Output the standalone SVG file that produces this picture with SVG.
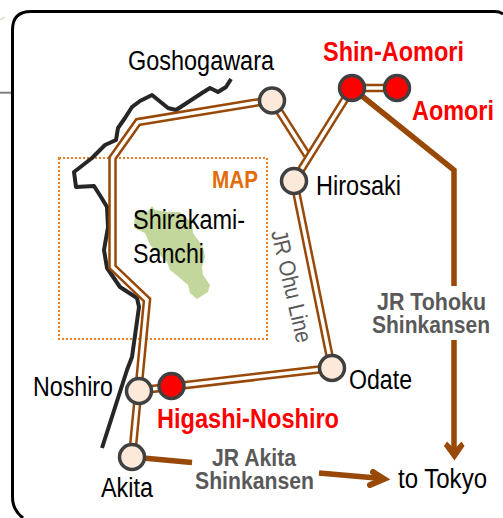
<svg xmlns="http://www.w3.org/2000/svg" width="503" height="518" viewBox="0 0 503 518">
<defs>
<style>
text{font-family:"Liberation Sans",Arial,sans-serif}
.t{font-size:27px;fill:#000}
.r{fill:#f00;font-weight:bold;font-size:27px}
.g{fill:#595959;font-weight:bold;font-size:24.500px}
.s{fill:#fde9d9;stroke:#404040;stroke-width:3.500}
.e{fill:#f00;stroke:#404040;stroke-width:3.500}
.o{fill:none;stroke:#984807;stroke-width:8.500}
.i{fill:none;stroke:#fff;stroke-width:3.500}
.h{fill:none;stroke:#984807;stroke-width:5.500}
</style>
</defs>
<rect width="503" height="518" fill="#fff"/>
<path d="M0 20L5 17" fill="none" stroke="#e4e6cf" stroke-width="2"/>
<path d="M0 92.700H12" fill="none" stroke="#7f7f7f" stroke-width="2"/>
<path d="M503 14Q500 11.500 495 11.500H31Q12.500 11.500 12.500 30V497Q12.500 510 23 518" fill="none" stroke="#000" stroke-width="3"/>
<path id="area" d="M135 212L147 212L152 206L155 210L168 212L180 212L192 223L193 233L203 247L205 257L202 267L203 275L210 285L208 292L200 297L197 299L190 293L188 285L180 278L170 270L167 262L160 255L150 245L145 233L134 228Z" fill="#c3d69b"/>
<rect x="59" y="158" width="208" height="181" fill="none" stroke="#ed7d1f" stroke-width="2" stroke-dasharray="2 2"/>
<g id="connectors">
<path d="M231 79L226 87L218 92L210 88L202 93L176 110L168 108L152 95L140 101L132 107L125 118L118 128L116 140L105 145L92 158L74 172L76 187L94 186L101 197L107 207L108 227L104 250L107 268L120 287L137 298L139 307L132 357L127 370L102 448" fill="none" stroke="#262626" stroke-width="4" stroke-linejoin="round"/>
<path class="o" d="M272 100L138 122L112.500 158V267L147 300L132 457"/>
<path class="i" d="M272 100L138 122L112.500 158V267L147 300L132 457"/>
<path class="o" d="M272 100L307 155"/><path class="i" d="M272 100L307 155"/>
<path class="o" d="M352 88L294 181L332 368"/><path class="i" d="M352 88L294 181L332 368"/>
<path class="o" d="M352 88H397"/><path class="i" d="M352 88H397"/>
<path class="o" d="M139 390.500L332 368"/><path class="i" d="M139 390.500L332 368"/>
<path class="h" d="M352 88L454 170V286M454 340V452"/>
<path d="M454.500 460.500L444 446L447 441.500L454.500 449L461.500 441.500L464.500 446Z" fill="#984807"/>
<path class="h" d="M132 457L192 462.500M319 473L382 478.500"/>
<path d="M373 472L384 479L370 485" fill="none" stroke="#984807" stroke-width="6" stroke-linecap="round" stroke-linejoin="miter"/>
</g>
<g id="n-goshogawara"><circle class="s" cx="272" cy="100.500" r="12.500"/><text class="t" x="128" y="70" textLength="146" lengthAdjust="spacingAndGlyphs">Goshogawara</text></g>
<g id="n-shin-aomori"><circle class="e" cx="352" cy="88" r="12.500"/><text class="r" x="323" y="61" textLength="141" lengthAdjust="spacingAndGlyphs">Shin-Aomori</text></g>
<g id="n-aomori"><circle class="e" cx="397" cy="88" r="12.500"/><text class="r" x="412" y="120" textLength="82" lengthAdjust="spacingAndGlyphs">Aomori</text></g>
<g id="n-hirosaki"><circle class="s" cx="294" cy="181" r="12.500"/><text class="t" x="316" y="195" textLength="85" lengthAdjust="spacingAndGlyphs">Hirosaki</text></g>
<g id="n-odate"><circle class="s" cx="332" cy="368" r="12.500"/><text class="t" x="349" y="389" textLength="63" lengthAdjust="spacingAndGlyphs">Odate</text></g>
<g id="n-noshiro"><circle class="s" cx="139" cy="391" r="12.500"/><text class="t" x="33" y="396" textLength="80" lengthAdjust="spacingAndGlyphs">Noshiro</text></g>
<g id="n-higashi-noshiro"><circle class="e" cx="171.500" cy="386" r="12.500"/><text class="r" x="157" y="428" textLength="182" lengthAdjust="spacingAndGlyphs">Higashi-Noshiro</text></g>
<g id="n-akita"><circle class="s" cx="132" cy="457" r="12.500"/><text class="t" x="101" y="497" textLength="52" lengthAdjust="spacingAndGlyphs">Akita</text></g>
<g id="labels">
<text x="212" y="188" font-weight="bold" fill="#e36c09" font-size="24" textLength="46" lengthAdjust="spacingAndGlyphs">MAP</text>
<text class="t" x="133" y="229" textLength="112" lengthAdjust="spacingAndGlyphs">Shirakami-</text>
<text class="t" x="133" y="263" textLength="71" lengthAdjust="spacingAndGlyphs">Sanchi</text>
<text transform="translate(271 232) rotate(77)" fill="#595959" font-size="23" textLength="115" lengthAdjust="spacingAndGlyphs">JR Ohu Line</text>
<text class="g" x="377" y="310" textLength="109" lengthAdjust="spacingAndGlyphs">JR Tohoku</text>
<text class="g" x="372" y="333" textLength="118" lengthAdjust="spacingAndGlyphs">Shinkansen</text>
<text class="g" x="212" y="466" textLength="84" lengthAdjust="spacingAndGlyphs">JR Akita</text>
<text class="g" x="195" y="489" textLength="119" lengthAdjust="spacingAndGlyphs">Shinkansen</text>
<text class="t" x="398" y="488" textLength="89" lengthAdjust="spacingAndGlyphs">to Tokyo</text>
</g>
</svg>
